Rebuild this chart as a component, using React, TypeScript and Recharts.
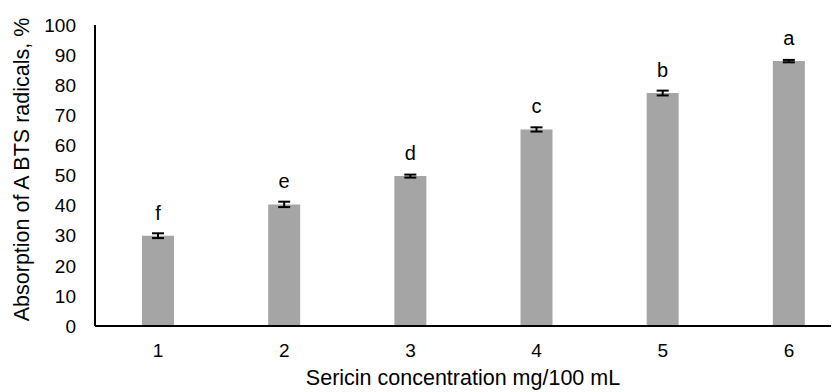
import React from 'react';
import { BarChart, Bar, XAxis, YAxis, ErrorBar, LabelList, Label } from 'recharts';

const categories = ['1', '2', '3', '4', '5', '6'];
const values = [30.0, 40.4, 49.8, 65.3, 77.4, 88.0];
const errors = [0.8, 0.9, 0.5, 0.7, 0.8, 0.4];
const letters = ['f', 'e', 'd', 'c', 'b', 'a'];
const yTicks = [0, 10, 20, 30, 40, 50, 60, 70, 80, 90, 100];

const data = categories.map((c, i) => ({ cat: c, value: values[i], err: errors[i], letter: letters[i] }));

const FONT = '"Liberation Sans", Arial, sans-serif';
const FS = 19;
const TFS = 21.5;

const YTitle = (props: any) => {
  const vb = props.viewBox;
  const cx = 14;
  const cy = vb.y + vb.height / 2 - 6;
  return (
    <text x={cx} y={cy} transform={`rotate(-90 ${cx} ${cy})`} textAnchor="middle" dominantBaseline="central" fontFamily={FONT} fontSize={TFS} fill="#000">
      Absorption of A BTS radicals, %
    </text>
  );
};

const XTitle = (props: any) => {
  const vb = props.viewBox;
  const cx = 455;
  const cy = vb.y + vb.height - 7;
  return (
    <text x={cx} y={cy} textAnchor="middle" fontFamily={FONT} fontSize={TFS} fill="#000">
      Sericin concentration mg/100 mL
    </text>
  );
};

export default function App() {
  return (
    <div style={{ width: 831, height: 384, overflow: 'hidden' }}>
      <BarChart width={860} height={384} data={data} margin={{ top: 17, right: 16, bottom: 0, left: 0 }}>
        <XAxis xAxisId="top" orientation="top" dataKey="cat" height={0} tick={false} tickLine={false} axisLine={{ stroke: '#000', strokeWidth: 2 }} />
        <XAxis dataKey="cat" height={66} tickLine={false} tickMargin={12} axisLine={{ stroke: '#000', strokeWidth: 2 }} tick={{ fontFamily: FONT, fontSize: FS, fill: '#000' }}>
          <Label content={<XTitle />} />
        </XAxis>
        <YAxis domain={[0, 100]} ticks={yTicks} width={87} tickLine={false} tickMargin={13} axisLine={{ stroke: '#000', strokeWidth: 2 }} tick={{ fontFamily: FONT, fontSize: FS, fill: '#000' }}>
          <Label content={<YTitle />} />
        </YAxis>
        <Bar dataKey="value" fill="#A5A5A5" barSize={32} isAnimationActive={false}>
          <ErrorBar dataKey="err" width={6} stroke="#000" strokeWidth={2} />
          <LabelList dataKey="letter" position="top" offset={16} style={{ fontFamily: FONT, fontSize: 20, fill: '#000' }} />
        </Bar>
      </BarChart>
    </div>
  );
}
